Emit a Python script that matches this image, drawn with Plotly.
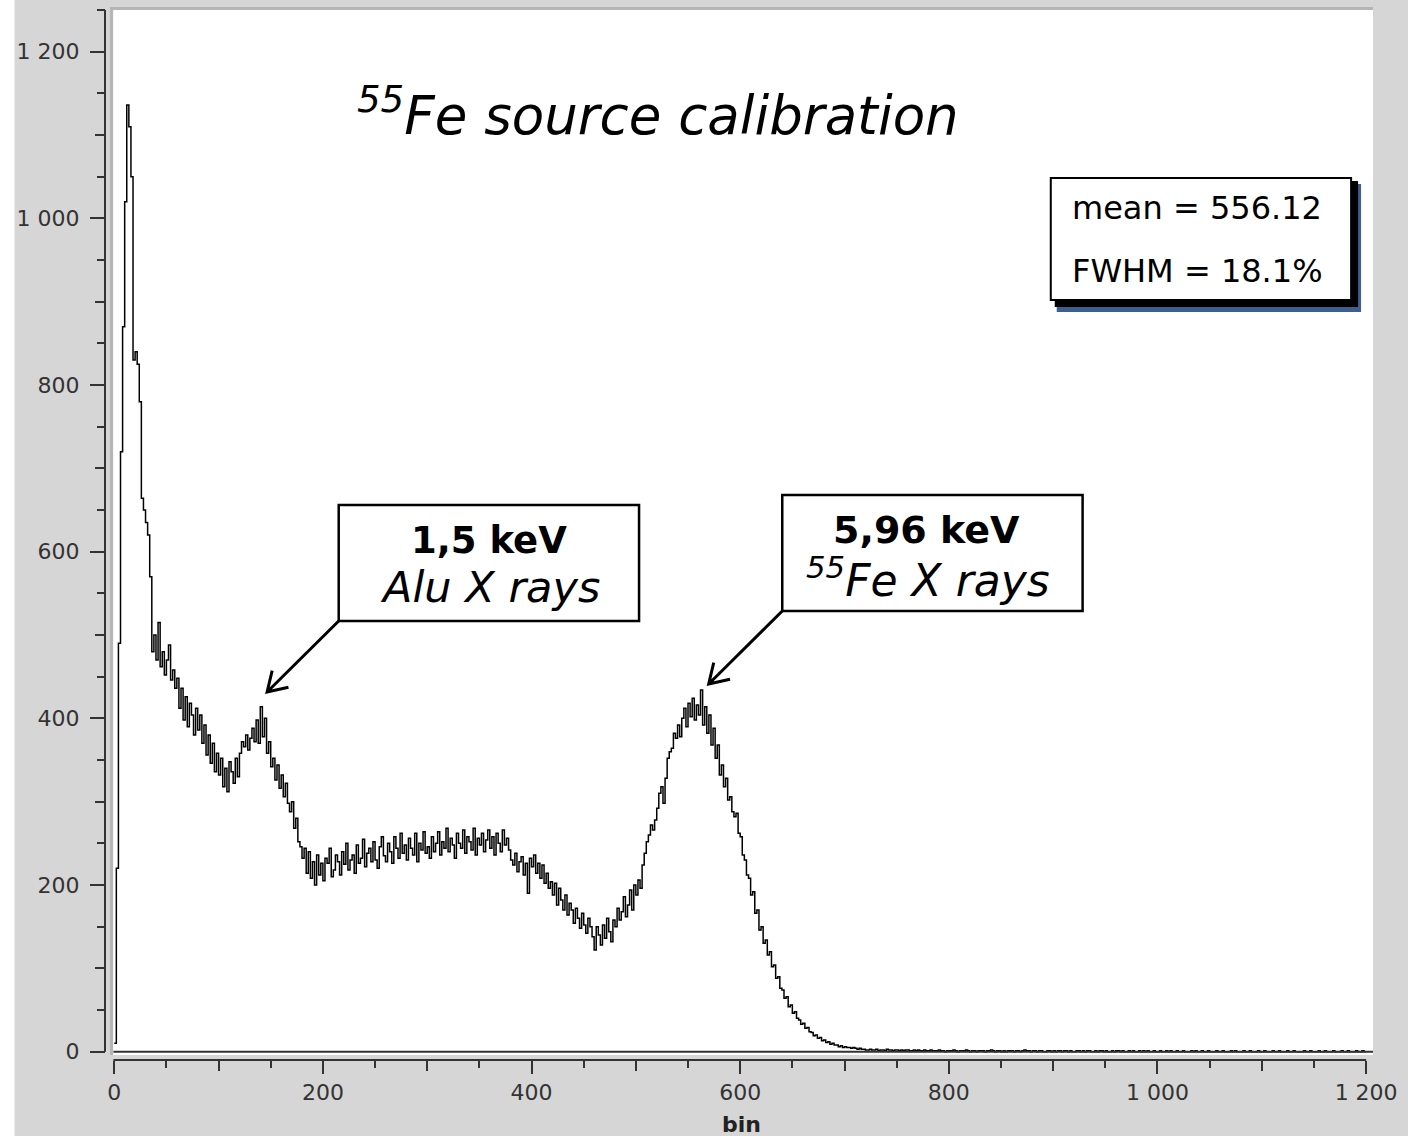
import math
import numpy as np
import plotly.graph_objects as go

# ---------------- data (bin width 2, bins 0..1198) ----------------
bin_width = 2
counts_000 = [10, 220, 490, 720, 870, 1020, 1136, 1110, 1050, 830,
              840, 825, 780, 664, 650, 635, 620, 570, 480, 500,
              470, 515, 462, 480, 452, 470, 488, 446, 458, 436,
              448, 412, 436, 398, 426, 390, 418, 404, 380, 412,
              386, 404, 370, 392, 356, 380, 346, 370, 336, 358]
counts_100 = [332, 352, 318, 340, 312, 348, 336, 322, 352, 330,
              358, 372, 366, 380, 362, 376, 388, 372, 398, 370,
              414, 378, 400, 358, 372, 342, 352, 326, 344, 316,
              332, 306, 322, 298, 288, 300, 268, 280, 252, 246,
              232, 244, 214, 240, 208, 228, 200, 236, 212, 226]
counts_200 = [205, 232, 226, 244, 210, 218, 236, 228, 212, 240,
              225, 250, 218, 230, 236, 214, 248, 226, 232, 255,
              222, 238, 244, 228, 252, 230, 220, 246, 258, 235,
              228, 250, 240, 226, 258, 244, 232, 262, 238, 248,
              230, 256, 244, 236, 262, 228, 250, 242, 264, 238]
counts_300 = [246, 232, 258, 240, 250, 264, 236, 252, 244, 268,
              240, 256, 248, 232, 262, 250, 244, 266, 238, 258,
              252, 242, 268, 236, 256, 248, 262, 240, 254, 266,
              244, 258, 236, 262, 250, 240, 266, 248, 256, 242,
              230, 224, 238, 216, 228, 234, 212, 226, 190, 232]
counts_400 = [222, 236, 214, 226, 208, 224, 202, 214, 196, 204,
              188, 202, 176, 196, 182, 170, 188, 164, 178, 170,
              154, 172, 160, 148, 166, 152, 142, 160, 150, 138,
              122, 150, 140, 128, 152, 136, 160, 144, 132, 158,
              150, 172, 158, 168, 186, 162, 176, 194, 170, 200]
counts_500 = [188, 206, 196, 224, 238, 252, 260, 272, 266, 278,
              292, 310, 318, 298, 328, 352, 360, 364, 382, 376,
              392, 378, 400, 412, 390, 418, 402, 424, 398, 416,
              404, 434, 392, 414, 382, 404, 368, 388, 352, 368,
              332, 344, 318, 328, 302, 306, 288, 282, 286, 262]
counts_600 = [258, 236, 230, 212, 208, 188, 192, 166, 170, 146,
              150, 130, 134, 116, 120, 102, 104, 88, 90, 76,
              74, 64, 66, 54, 56, 46, 48, 40, 38, 33,
              34, 28, 29, 24, 23, 19, 20, 16, 17, 13,
              14, 11, 12, 9, 10, 8, 8, 6, 7, 5]
counts_700 = [6, 5, 5, 4, 5, 4, 3, 4, 3, 3,
              2, 2, 3, 2, 2, 3, 1, 2, 2, 1,
              3, 2, 2, 1, 2, 2, 1, 2, 1, 2,
              2, 1, 1, 2, 1, 2, 1, 1, 2, 1,
              1, 2, 1, 1, 1, 2, 1, 1, 0, 1]
counts_800 = [1, 1, 2, 1, 0, 1, 1, 1, 2, 1, 0, 1, 1, 0, 1, 1, 1, 0, 1, 1,
              2, 1, 0, 1, 1, 0, 1, 0, 1, 1, 1, 0, 1, 1, 0, 1, 2, 1, 1, 0,
              1, 1, 0, 1, 1, 0, 0, 1, 1, 0]
counts_900 = [1, 0, 1, 1, 0, 1, 1, 0, 1, 0, 0, 1, 1, 0, 1, 0, 1, 1, 0, 0,
              1, 0, 1, 1, 0, 1, 0, 0, 1, 0, 1, 1, 0, 1, 0, 0, 1, 0, 1, 0,
              0, 1, 0, 1, 0, 1, 0, 0, 1, 0]
counts_1000 = [0, 1, 0, 0, 1, 0, 1, 0, 0, 1, 0, 0, 1, 0, 0, 0, 1, 0, 1, 0,
               0, 1, 0, 0, 1, 0, 0, 0, 1, 0, 0, 1, 0, 0, 0, 1, 0, 1, 0, 0,
               0, 1, 0, 0, 1, 0, 0, 0, 1, 0]
counts_1100 = [0, 1, 0, 0, 0, 1, 0, 0, 1, 0, 0, 0, 1, 0, 0, 1, 0, 0, 0, 0,
               1, 0, 0, 1, 0, 0, 0, 1, 0, 0, 1, 0, 0, 0, 1, 0, 0, 0, 1, 0,
               0, 1, 0, 0, 0, 1, 0, 0, 1, 0]

counts = (counts_000 + counts_100 + counts_200 + counts_300 + counts_400 +
          counts_500 + counts_600 + counts_700 + counts_800 + counts_900 +
          counts_1000 + counts_1100)

x_ticks = [0, 200, 400, 600, 800, 1000, 1200]
y_ticks = [0, 200, 400, 600, 800, 1000, 1200]

title_text = "<i><sup>55</sup>Fe source calibration</i>"
stats_lines = ["mean = 556.12", "FWHM = 18.1%"]
label1 = ("1,5 keV", "Alu X rays")
label2 = ("5,96 keV", "<sup>55</sup>Fe X rays")

# ---------------- geometry ----------------
W, H = 1408, 1136
ML, MR, MT, MB = 105, 28, 10, 76
PW = W - ML - MR
PH = H - MT - MB


def px(x):
    return (x - ML) / PW


def py(y):
    return (H - MB - y) / PH


FONT = "DejaVu Sans"
AX = "#333333"

edges = [i * bin_width for i in range(len(counts) + 1)]
yvals = counts + [counts[-1]]

fig = go.Figure()
fig.add_trace(go.Scatter(x=edges, y=yvals, mode="lines",
                         line=dict(color="black", width=1.5, shape="hv"),
                         hoverinfo="skip", showlegend=False))
fig.add_trace(go.Scatter(x=[0], y=[0], mode="lines", xaxis="x2", yaxis="y2",
                         line=dict(color="rgba(0,0,0,0)"), showlegend=False,
                         hoverinfo="skip"))

xr = [-0.95, 1206.6]
yr = [-3.96, 1250.0]
xdom = [px(113.3), 1]
ydom = [py(1055), 1]

common = dict(showgrid=False, zeroline=False, showline=False, ticks="outside",
              tickcolor=AX, tickwidth=2, fixedrange=True)

fig.update_layout(
    width=W, height=H,
    margin=dict(l=ML, r=MR, t=MT, b=MB, pad=0),
    paper_bgcolor="#d6d6d6",
    plot_bgcolor="white",
    separators=". ",
    showlegend=False,
    xaxis=dict(domain=xdom, range=xr, anchor="free", position=0,
               tickvals=x_ticks, ticklen=13, tickformat=",d",
               tickfont=dict(family=FONT, size=22, color=AX),
               minor=dict(dtick=50, tick0=0, ticklen=7, tickwidth=2,
                          tickcolor=AX, ticks="outside"),
               **common),
    yaxis=dict(domain=ydom, range=yr, anchor="free", position=0,
               tickvals=y_ticks, ticklen=15, tickformat=",d",
               tickfont=dict(family=FONT, size=22, color=AX),
               ticklabelstandoff=6,
               minor=dict(dtick=50, tick0=0, ticklen=8, tickwidth=2,
                          tickcolor=AX, ticks="outside"),
               **common),
    xaxis2=dict(domain=xdom, range=xr, anchor="free", position=0,
                overlaying="x", dtick=100, tick0=0, ticklen=10,
                showticklabels=False, **common),
    yaxis2=dict(domain=ydom, range=yr, anchor="free", position=0,
                overlaying="y", dtick=100, tick0=0, ticklen=10,
                showticklabels=False, **common),
)

shapes = []
# white screenshot edge on the left
shapes.append(dict(type="rect", xref="paper", yref="paper",
                   x0=px(-5), x1=px(14), y0=py(H + 5), y1=py(-5),
                   fillcolor="white", line=dict(width=0), layer="above"))
# inset border of plot area (top and left)
shapes.append(dict(type="line", xref="paper", yref="paper",
                   x0=px(110), x1=px(1380), y0=py(8.5), y1=py(8.5),
                   line=dict(color="#b5b5b5", width=3)))
shapes.append(dict(type="line", xref="paper", yref="paper",
                   x0=px(111.5), x1=px(111.5), y0=py(1055), y1=py(7),
                   line=dict(color="#b5b5b5", width=3)))
# zero line of the histogram
shapes.append(dict(type="line", xref="x", yref="y", x0=xr[0], x1=xr[1],
                   y0=0, y1=0, line=dict(color="#333333", width=2)))
# axis lines
shapes.append(dict(type="line", xref="x", yref="paper", x0=-1, x1=1200,
                   y0=0, y1=0, line=dict(color=AX, width=2)))
shapes.append(dict(type="line", xref="paper", yref="y", x0=0, x1=0,
                   y0=0, y1=yr[1], line=dict(color=AX, width=2)))


def rect(x0, y0, x1, y1, fill, lc, lw):
    return dict(type="rect", xref="paper", yref="paper",
                x0=px(x0), x1=px(x1), y0=py(y1), y1=py(y0),
                fillcolor=fill, line=dict(color=lc, width=lw))


# stats box with shadow
shapes.append(rect(1062, 184, 1368, 312, "#3d5f8f", "#3d5f8f", 0))
shapes.append(rect(1060, 181, 1365, 307, "black", "black", 0))
shapes.append(rect(1056, 178, 1358, 300, "white", "black", 2))
# label boxes
shapes.append(rect(340, 505, 642, 621, "white", "black", 2.5))
shapes.append(rect(786, 495, 1088, 611, "white", "black", 2.5))


def arrow_path(x0, y0, x1, y1, L=22, deg=32):
    ang = math.atan2(y0 - y1, x0 - x1)
    pts = []
    for s in (1, -1):
        a = ang + s * math.radians(deg)
        pts.append((x1 + L * math.cos(a), y1 + L * math.sin(a)))
    P = lambda x, y: f"{px(x):.5f},{py(y):.5f}"
    return (f"M{P(x0, y0)} L{P(x1, y1)} M{P(*pts[0])} L{P(x1, y1)} "
            f"L{P(*pts[1])}")


for a in [(340, 621, 268, 692), (786, 611, 712, 684)]:
    shapes.append(dict(type="path", xref="paper", yref="paper",
                       path=arrow_path(*a), line=dict(color="black", width=3)))

fig.update_layout(shapes=shapes)

ann = []


def text(t, x, y, size, xanchor="center", bold=False):
    if bold:
        t = f"<b>{t}</b>"
    ann.append(dict(text=t, x=px(x), y=py(y), xref="paper", yref="paper",
                    xanchor=xanchor, yanchor="middle", showarrow=False,
                    font=dict(family=FONT, size=size, color="black")))


text(title_text, 356, 112, 53, xanchor="left")
text(stats_lines[0], 1075, 208, 32, xanchor="left")
text(stats_lines[1], 1075, 271, 32, xanchor="left")
text(label1[0], 491, 540, 37, bold=True)
text(f"<i>{label1[1]}</i>", 492, 587, 43)
text(label2[0], 931, 530, 38, bold=True)
text(f"<i>{label2[1]}</i>", 933, 577, 44)
ann.append(dict(text="<b>bin</b>", x=px(745), y=py(1124), xref="paper",
                yref="paper", xanchor="center", yanchor="middle",
                showarrow=False, font=dict(family=FONT, size=22, color="#222")))
fig.update_layout(annotations=ann)

fig.write_html("out.html")
